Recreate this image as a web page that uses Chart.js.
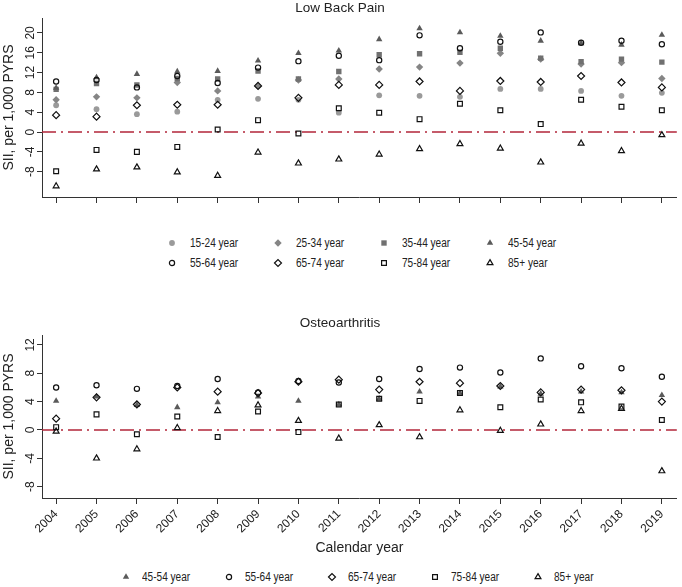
<!DOCTYPE html>
<html>
<head>
<meta charset="utf-8">
<script src="https://cdn.jsdelivr.net/npm/chart.js@4/dist/chart.umd.min.js"></script>
<style>
  html, body { margin: 0; padding: 0; background: #fff; }
  body { width: 682px; height: 587px; position: relative; overflow: hidden; font-family: 'Liberation Sans', Arial, sans-serif; }
  canvas.panel { position: absolute; left: 0; }
  #lbpChart { top: 0; }
  #oaChart { top: 310px; }
  .leg-item { position: absolute; height: 14px; }
  .leg-item canvas { position: absolute; left: 0; top: 0; }
  .leg-item span { position: absolute; top: 0; line-height: 14px; white-space: nowrap; font: 12px 'Liberation Sans', Arial, sans-serif; color: #222; transform: scaleX(0.84); transform-origin: 0 50%; }
</style>
</head>
<body>
<canvas id="lbpChart" class="panel" width="682" height="215"></canvas>
<canvas id="oaChart" class="panel" width="682" height="250"></canvas>
<div id="lbpLegend"></div>
<div id="oaLegend"></div>
<script>
// === Data ===
const years = [2004, 2005, 2006, 2007, 2008, 2009, 2010, 2011, 2012, 2013, 2014, 2015, 2016, 2017, 2018, 2019];

// Low back pain, SII per 1,000 PYRS
const lbp1524 = [5.4, 4.6, 3.6, 4.1, 6.5, 6.7, 6.5, 3.9, 7.4, 7.3, 7.1, 8.7, 8.7, 8.3, 7.3, 7.9];
const lbp2534 = [6.5, 7.1, 6.9, 10.0, 8.3, 9.3, 10.5, 10.7, 12.7, 13.1, 13.9, 15.9, 14.7, 13.7, 14.0, 10.8];
const lbp3544 = [8.6, 9.8, 9.5, 10.8, 10.7, 12.3, 10.7, 12.2, 15.6, 15.8, 16.1, 16.9, 14.9, 14.2, 14.7, 14.1];
const lbp4554 = [8.9, 11.0, 11.7, 12.2, 12.3, 14.4, 15.9, 16.4, 18.7, 20.9, 20.1, 19.4, 18.4, 17.9, 17.6, 19.6];
const lbp5564 = [10.2, 10.5, 9.0, 11.3, 9.9, 13.0, 14.3, 15.4, 14.5, 19.5, 16.9, 18.2, 20.1, 18.0, 18.4, 17.7];
const lbp6574 = [3.4, 3.1, 5.4, 5.5, 5.5, 9.3, 6.9, 9.5, 9.5, 10.2, 8.3, 10.3, 10.1, 11.3, 10.0, 9.0];
const lbp7584 = [-7.9, -3.6, -4.0, -3.0, 0.5, 2.4, -0.3, 4.8, 3.9, 2.6, 5.7, 4.4, 1.6, 6.5, 5.1, 4.4];
const lbp85 = [-10.9, -7.5, -7.1, -8.1, -8.8, -4.1, -6.3, -5.5, -4.5, -3.4, -2.4, -3.3, -6.1, -2.3, -3.8, -0.6];

// Osteoarthritis, SII per 1,000 PYRS
const oa4554 = [4.1, 4.7, 3.5, 3.2, 3.9, 4.7, 4.1, 3.6, 4.4, 5.4, 5.2, 6.1, 5.1, 5.4, 5.3, 4.9];
const oa5564 = [6.0, 6.3, 5.8, 6.2, 7.2, 5.3, 6.9, 6.7, 7.2, 8.6, 8.8, 8.1, 10.1, 9.0, 8.7, 7.5];
const oa6574 = [1.6, 4.6, 3.6, 6.0, 5.4, 5.2, 6.8, 7.1, 5.7, 6.8, 6.6, 6.2, 5.3, 5.7, 5.6, 4.0];
const oa7584 = [0.4, 2.2, -0.6, 1.9, -1.0, 2.6, -0.3, 3.6, 4.4, 4.1, 5.2, 3.2, 4.3, 3.9, 3.3, 1.4];
const oa85 = [-0.2, -4.0, -2.7, 0.3, 2.7, 3.5, 1.3, -1.2, 0.7, -1.0, 2.8, -0.1, 0.8, 2.7, 3.0, -5.8];

const yTicksLbp = [-8, -4, 0, 4, 8, 12, 16, 20];
const yTicksOa = [-8, -4, 0, 4, 8, 12];

const lbpSeries = [
  ['15-24 year', lbp1524], ['25-34 year', lbp2534], ['35-44 year', lbp3544], ['45-54 year', lbp4554],
  ['55-64 year', lbp5564], ['65-74 year', lbp6574], ['75-84 year', lbp7584], ['85+ year', lbp85]
];
const oaSeries = [
  ['45-54 year', oa4554], ['55-64 year', oa5564], ['65-74 year', oa6574], ['75-84 year', oa7584], ['85+ year', oa85]
];

// === Marker styles ===
const NONE = 'rgba(0,0,0,0)';
const markers = {
  '15-24 year': { style: 'circle',  r: 2.9, fill: '#9a9a9a', stroke: '#9a9a9a', bw: 0 },
  '25-34 year': { style: 'rectRot', r: 3.7, fill: '#858585', stroke: '#858585', bw: 0 },
  '35-44 year': { style: 'rect',    r: 3.8, fill: '#707070', stroke: '#707070', bw: 0 },
  '45-54 year': { style: 'triangle', r: 3.7, fill: '#5a5a5a', stroke: '#5a5a5a', bw: 0 },
  '55-64 year': { style: 'circle',  r: 2.6, fill: NONE, stroke: '#111', bw: 1.2 },
  '65-74 year': { style: 'rectRot', r: 3.5, fill: NONE, stroke: '#111', bw: 1.2 },
  '75-84 year': { style: 'rect',    r: 3.4, fill: NONE, stroke: '#111', bw: 1.2 },
  '85+ year':   { style: 'triangle', r: 3.4, fill: NONE, stroke: '#111', bw: 1.2 }
};

const FONT = "'Liberation Sans', Arial, sans-serif";
const AXIS = '#333';

// dash-dot reference line at zero
const zeroLine = {
  id: 'zeroLine',
  beforeDatasetsDraw(chart) {
    const { ctx, chartArea: a, scales: { y } } = chart;
    const py = y.getPixelForValue(0);
    ctx.save();
    ctx.strokeStyle = '#b3263a';
    ctx.lineWidth = 1.5;
    ctx.setLineDash([14, 5, 2, 5]);
    ctx.beginPath();
    ctx.moveTo(a.left, py);
    ctx.lineTo(a.right, py);
    ctx.stroke();
    ctx.restore();
  }
};

function makeChart(id, title, series, yMin, yMax, yTicks, cfg) {
  const n = series.length;
  const datasets = series.map(([label, vals], i) => {
    const m = markers[label];
    return {
      label,
      data: years.map((x, j) => ({ x, y: vals[j] })),
      pointStyle: m.style,
      pointRadius: m.r,
      backgroundColor: m.fill,
      borderColor: m.stroke,
      pointBorderWidth: m.bw,
      showLine: false,
      order: n - i
    };
  });
  return new Chart(document.getElementById(id), {
    type: 'scatter',
    data: { datasets },
    plugins: [zeroLine],
    options: {
      responsive: false,
      animation: false,
      events: [],
      layout: { padding: { left: 0, right: 2, top: 0, bottom: 0 } },
      plugins: {
        legend: { display: false },
        tooltip: { enabled: false },
        title: {
          display: true, text: title, color: '#222',
          font: { family: FONT, size: 13.5, weight: 'normal' },
          padding: cfg.titlePad
        }
      },
      scales: {
        x: {
          type: 'linear', min: 2003.65, max: 2019.37,
          afterBuildTicks: s => { s.ticks = years.map(v => ({ value: v })); },
          afterFit: s => { s.height = cfg.xHeight; },
          ticks: {
            display: cfg.xLabels, autoSkip: false, minRotation: 45, maxRotation: 45,
            color: '#222', font: { family: FONT, size: 12 }, padding: 3,
            callback: v => String(v)
          },
          grid: { drawOnChartArea: false, tickLength: 6, color: AXIS },
          border: { color: AXIS, width: 1 },
          title: {
            display: cfg.xLabels, text: 'Calendar year', color: '#222',
            font: { family: FONT, size: 14 }, padding: { top: 0, bottom: 3 }
          }
        },
        y: {
          min: yMin, max: yMax,
          afterBuildTicks: s => { s.ticks = yTicks.map(v => ({ value: v })); },
          afterFit: s => { s.width = 42; },
          ticks: {
            minRotation: 90, maxRotation: 90, crossAlign: 'center', padding: 0,
            color: '#222', font: { family: FONT, size: 12 }
          },
          grid: { drawOnChartArea: false, tickLength: 5, color: AXIS },
          border: { color: AXIS, width: 1 },
          title: {
            display: true, text: 'SII, per 1,000 PYRS', color: '#222',
            font: { family: FONT, size: 14 }, padding: { top: 1, bottom: 0 }
          }
        }
      }
    }
  });
}

makeChart('lbpChart', 'Low Back Pain', lbpSeries, -13.1, 23, yTicksLbp,
  { titlePad: { top: 0.5, bottom: 1.3 }, xHeight: 18, xLabels: false });
makeChart('oaChart', 'Osteoarthritis', oaSeries, -9.6, 13.4, yTicksOa,
  { titlePad: { top: 4.9, bottom: 3.9 }, xHeight: 62, xLabels: true });

// === Legends ===
function drawLegend(holderId, labels, x0, dx, rowY, perRow, textGap) {
  const holder = document.getElementById(holderId);
  labels.forEach((label, i) => {
    const m = markers[label];
    const mx = x0 + (i % perRow) * dx;
    const my = rowY[Math.floor(i / perRow)];
    const item = document.createElement('div');
    item.className = 'leg-item';
    item.style.left = (mx - 7) + 'px';
    item.style.top = (my - 7) + 'px';
    const c = document.createElement('canvas');
    c.width = 14; c.height = 14;
    const ctx = c.getContext('2d');
    ctx.fillStyle = m.fill;
    ctx.strokeStyle = m.stroke;
    ctx.lineWidth = m.bw;
    Chart.helpers.drawPoint(ctx, { pointStyle: m.style, radius: m.r, borderWidth: m.bw, rotation: 0 }, 7, 7);
    const t = document.createElement('span');
    t.style.left = (7 + textGap) + 'px';
    t.textContent = label;
    item.appendChild(c);
    item.appendChild(t);
    holder.appendChild(item);
  });
}

drawLegend('lbpLegend', lbpSeries.map(s => s[0]), 172, 106, [243, 263], 4, 18);
drawLegend('oaLegend', oaSeries.map(s => s[0]), 126, 103, [577], 5, 16);
</script>
</body>
</html>
